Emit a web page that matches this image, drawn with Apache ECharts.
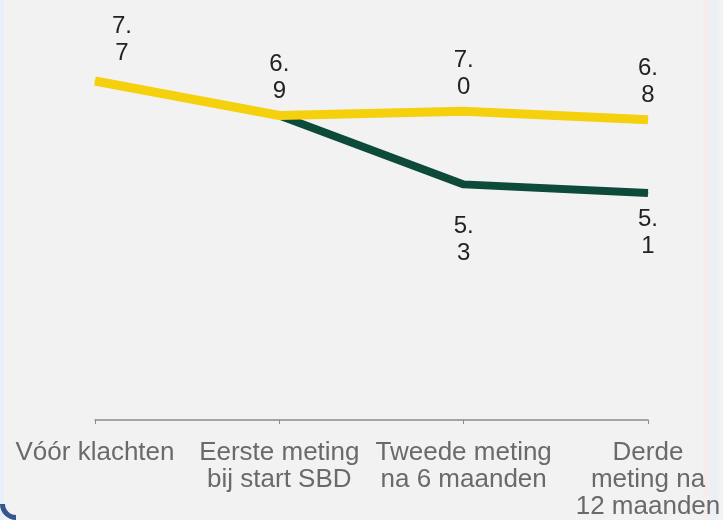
<!DOCTYPE html>
<html>
<head>
<meta charset="utf-8">
<script src="https://cdn.jsdelivr.net/npm/echarts@6/dist/echarts.min.js"></script>
<style>html,body{margin:0;padding:0;background:#f2f2f2;}#c{width:723px;height:520px;}</style>
</head>
<body>
<div id="c"></div>
<script>
const categories = ["Vóór klachten", "Eerste meting\nbij start SBD", "Tweede meting\nna 6 maanden", "Derde\nmeting na\n12 maanden"];
const yellowValues = [7.7, 6.9, 7.0, 6.8];
const greenValues = [null, 6.9, 5.3, 5.1];
const yellowLabels = ["7.\n7", "6.\n9", "7.\n0", "6.\n8"];
const greenLabels = ["", "", "5.\n3", "5.\n1"];

const FONT = "'Liberation Sans', Arial, sans-serif";
const chart = echarts.init(document.getElementById('c'));

const yellowData = yellowValues.map((v, i) => {
  const d = { value: v, label: { formatter: yellowLabels[i] } };
  if (i === 0) d.label.offset = [27, -4];
  return d;
});
const greenData = greenValues.map((v, i) => {
  if (v === null) return '-';
  const d = { value: v, label: { show: greenLabels[i] !== '', formatter: greenLabels[i] } };
  if (i === 2) d.label.distance = 28;
  return d;
});

chart.setOption({
  backgroundColor: '#f2f2f2',
  animation: false,
  grid: { left: 95, right: 75, top: 25, bottom: 100, containLabel: false, outerBoundsMode: 'none' },
  xAxis: {
    type: 'category',
    data: categories,
    boundaryGap: false,
    axisLine: { onZero: false, lineStyle: { color: '#8a8a8a', width: 1.5 } },
    axisTick: { show: true, length: 4, lineStyle: { color: '#8a8a8a' } },
    axisLabel: { color: '#6a6a6a', fontSize: 26, lineHeight: 27, fontFamily: FONT, margin: 19, interval: 0, hideOverlap: false }
  },
  yAxis: {
    type: 'value', min: -0.17, max: 9, show: false,
    splitLine: { show: false }
  },
  graphic: [
    { type: 'rect', shape: { x: 0, y: 0, width: 4, height: 520 }, style: { fill: '#e8eff8' }, silent: true, z: -1 },
    { type: 'rect', shape: { x: 703, y: 0, width: 7, height: 520 }, style: { fill: '#f6eded' }, silent: true, z: -1 },
    { type: 'rect', shape: { x: 710, y: 0, width: 8, height: 520 }, style: { fill: '#eaf0f5' }, silent: true, z: -1 },
    { type: 'sector', shape: { cx: 16, cy: 504, r: 16, r0: 11, startAngle: Math.PI / 2, endAngle: Math.PI }, style: { fill: '#34558f' }, silent: true }
  ],
  series: [
    {
      type: 'line',
      data: greenData,
      symbol: 'circle', symbolSize: 1,
      itemStyle: { color: '#0d4a3a' },
      lineStyle: { color: '#0d4a3a', width: 8 },
      label: { show: true, position: 'bottom', distance: 12, color: '#222', fontSize: 24, lineHeight: 27, fontFamily: FONT },
      z: 2
    },
    {
      type: 'line',
      data: yellowData,
      symbol: 'circle', symbolSize: 1,
      itemStyle: { color: '#f4d10c' },
      lineStyle: { color: '#f4d10c', width: 9 },
      label: { show: true, position: 'top', distance: 10, color: '#222', fontSize: 24, lineHeight: 27, fontFamily: FONT },
      z: 3
    }
  ]
});
</script>
</body>
</html>
